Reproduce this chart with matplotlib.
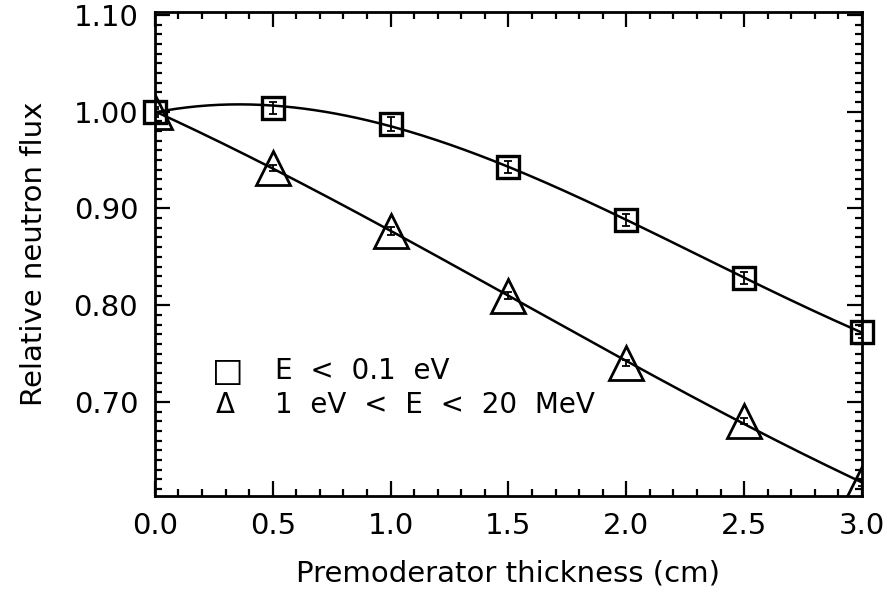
import matplotlib.pyplot as plt
import numpy as np
from matplotlib.ticker import MultipleLocator, FormatStrFormatter

thickness = [0.0, 0.5, 1.0, 1.5, 2.0, 2.5, 3.0]
flux_thermal = [1.000, 1.004, 0.987, 0.943, 0.888, 0.828, 0.772]
err_thermal = [0.005, 0.006, 0.007, 0.006, 0.006, 0.006, 0.006]
flux_fast = [1.000, 0.942, 0.877, 0.810, 0.740, 0.680, 0.616]
err_fast = [0.003, 0.003, 0.004, 0.004, 0.003, 0.003, 0.003]

plt.rcParams["font.family"] = "DejaVu Sans"
fig = plt.figure(figsize=(8.9, 6.01), dpi=100)
ax = fig.add_axes([0.174, 0.175, 0.7945, 0.805])

# smooth fitted curves through the measured points
xs = np.linspace(0, 3, 200)
for y in (flux_thermal, flux_fast):
    p = np.polyfit(thickness, y, 3)
    ax.plot(xs, np.polyval(p, xs), color="black", lw=1.8, zorder=2)

ax.errorbar(thickness, flux_thermal, yerr=err_thermal, fmt="none", ecolor="black",
            elinewidth=1.3, capsize=3, capthick=1.3, zorder=3)
ax.plot(thickness, flux_thermal, "s", ms=16, mfc="none", mec="black", mew=2.4,
        clip_on=False, zorder=3)
ax.errorbar(thickness, flux_fast, yerr=err_fast, fmt="none", ecolor="black",
            elinewidth=1.3, capsize=3, capthick=1.3, zorder=3)
ax.plot(thickness, flux_fast, "^", ms=24, mfc="none", mec="black", mew=2.0,
        clip_on=True, zorder=3)

ax.set_xlim(0, 3.0)
ax.set_ylim(0.603, 1.103)
ax.xaxis.set_major_locator(MultipleLocator(0.5))
ax.xaxis.set_minor_locator(MultipleLocator(0.1))
ax.yaxis.set_minor_locator(MultipleLocator(0.01))
ax.xaxis.set_major_formatter(FormatStrFormatter("%.1f"))
ax.yaxis.set_major_formatter(FormatStrFormatter("%.2f"))
ax.set_yticks([0.7, 0.8, 0.9, 1.0, 1.1])
ax.tick_params(which="both", direction="in", top=True, right=True, width=1.6, labelsize=21)
ax.tick_params(which="major", length=11, pad=12)
ax.tick_params(which="minor", length=5)
for s in ax.spines.values():
    s.set_linewidth(2)

ax.set_xlabel("Premoderator thickness (cm)", fontsize=21, labelpad=14)
ax.set_ylabel("Relative neutron flux", fontsize=21, labelpad=18)

ax.text(0.31, 0.732, "\u25a1", fontsize=24, ha="center", va="center")
ax.text(0.51, 0.732, "E  <  0.1  eV", fontsize=20, ha="left", va="center")
ax.text(0.30, 0.697, "\u0394", fontsize=20, ha="center", va="center")
ax.text(0.51, 0.697, "1  eV  <  E  <  20  MeV", fontsize=20, ha="left", va="center")

fig.savefig("out.png", dpi=100)
